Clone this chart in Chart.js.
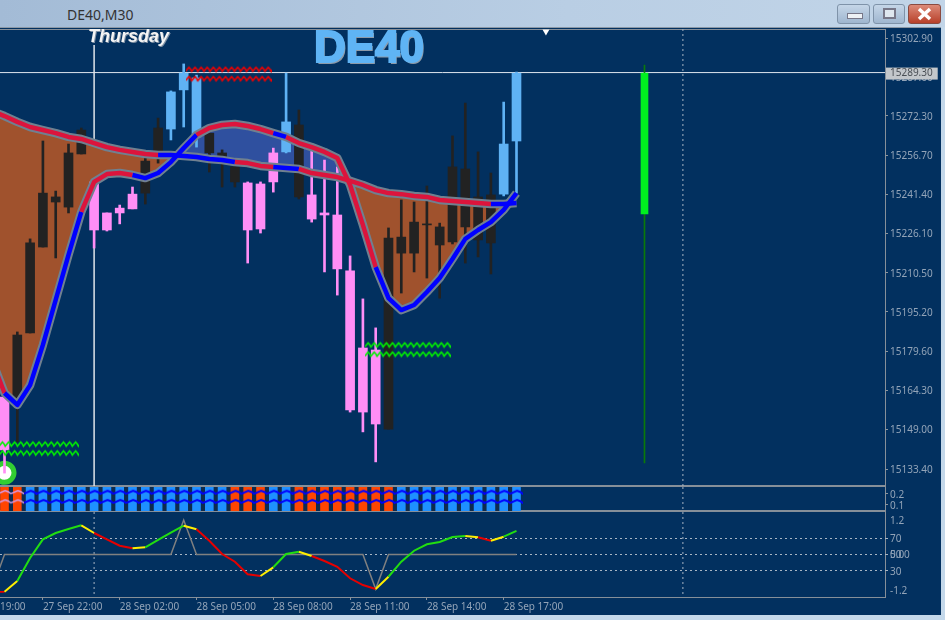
<!DOCTYPE html>
<html>
<head>
<meta charset="utf-8">
<script src="https://cdn.jsdelivr.net/npm/chart.js@4"></script>
<style>
  html, body { margin: 0; padding: 0; width: 945px; height: 620px; overflow: hidden; background: #02305f; }
  canvas { position: absolute; left: 0; }
  .box { position: absolute; left: -2px; width: 886px; border: 1px solid #868f99; box-sizing: content-box; }
  .bar { position: absolute; left: 0; top: 0; width: 945px; height: 27px;
         background: linear-gradient(to right, #a3bbd6, #b9cee4 60%, #c2d5e8); border-bottom: 1px solid #8d99a6; }
  .title { position: absolute; left: 67px; top: 5px; font: 14px "Noto Sans", sans-serif; color: #333; }
  .btn { position: absolute; top: 4px; height: 18px; border: 1px solid #7f93a9; border-radius: 3px;
         background: linear-gradient(#c5d6e8, #9fb6cf); }
  .frameR { position: absolute; left: 941px; top: 27px; width: 4px; height: 593px; background: #c4d8ea; }
  .frameB { position: absolute; left: 0; top: 615px; width: 945px; height: 5px; background: #c4d8ea; }
  .day { position: absolute; left: 88px; top: 26px; font: italic bold 18px "Liberation Sans", sans-serif;
         color: #f4f4f4; text-shadow: 1px 1px 0 #7d8fa3; }
  .name { position: absolute; left: 314px; top: 22px; font: bold 44px "Liberation Sans", sans-serif;
          color: #5fb4f5; -webkit-text-stroke: 2px #5fb4f5; text-shadow: 1.5px 1.5px 0 #8d9aa8; }
</style>
</head>
<body>
<div class="box" style="top:29px;height:455px"></div>
<div class="box" style="top:486px;height:23px"></div>
<div class="box" style="top:511px;height:85px"></div>
<canvas id="mainChart" width="941" height="457" style="top:29px"></canvas>
<canvas id="stripChart" width="941" height="24" style="top:487px"></canvas>
<canvas id="oscChart" width="941" height="103" style="top:512px"></canvas>

<div class="bar"></div>
<div class="title">DE40,M30</div>
<div class="btn" style="left:837px;width:31px"><div style="position:absolute;left:9px;top:8px;width:14px;height:4px;background:#eef2f6;border:1px solid #778"></div></div>
<div class="btn" style="left:873px;width:30px"><div style="position:absolute;left:9px;top:3px;width:9px;height:7px;background:#dfe7ef;border:2px solid #778"></div></div>
<div class="btn" style="left:908px;width:31px;background:linear-gradient(#dc8a78,#b8402a);border-color:#8a4a40">
  <svg width="31" height="18"><path d="M10 4 L21 14 M21 4 L10 14" stroke="#fff" stroke-width="3.5"/></svg>
</div>
<div class="frameR"></div>
<div class="frameB"></div>
<div class="day">Thursday</div>
<div class="name">DE40</div>

<script>
// ===== PRICE PANEL DATA (bars 0..40) =====
const candleHigh = [15161.7,15187.3,15223.9,15262.4,15242.7,15261.2,15267.5,15246.3,15234.1,15237.2,15244.3,15255.7,15271.4,15282.1,15292.7,15288.3,15265.5,15258.9,15253.0,15246.3,15246.3,15259.6,15289.1,15274.6,15258.9,15254.9,15252.2,15217.2,15200.3,15188.9,15228.2,15239.2,15238.4,15244.7,15230.1,15264.4,15277.3,15258.1,15249.8,15277.7,15289.5];
const candleLow = [15131.8,15144.0,15186.9,15220.7,15216.4,15234.1,15257.3,15220.3,15227.0,15229.8,15235.7,15237.6,15253.7,15262.8,15267.9,15260.0,15250.2,15244.3,15244.3,15214.4,15226.2,15242.3,15257.7,15239.6,15230.5,15210.9,15201.8,15155.8,15148.0,15136.2,15149.1,15202.6,15210.9,15208.5,15200.6,15221.9,15214.4,15216.8,15210.1,15240.8,15241.9];
const bodyTop = [15161.7,15186.1,15222.3,15241.9,15240.4,15257.7,15266.7,15246.3,15234.1,15236.0,15241.5,15254.5,15267.5,15281.7,15289.1,15287.2,15265.5,15257.7,15252.2,15245.9,15245.5,15257.7,15269.9,15268.7,15241.2,15234.1,15233.3,15211.3,15181.0,15180.2,15224.2,15224.6,15230.5,15229.8,15228.6,15252.2,15251.4,15240.4,15241.2,15261.2,15289.1];
const bodyBottom = [15140.9,15160.5,15186.9,15220.7,15238.4,15236.4,15257.3,15227.4,15227.4,15234.1,15235.7,15241.9,15256.1,15267.1,15282.5,15264.0,15257.7,15254.9,15246.3,15227.4,15227.8,15246.3,15258.1,15240.4,15231.7,15233.3,15212.1,15156.6,15155.8,15151.1,15149.1,15218.3,15218.3,15229.4,15221.5,15222.7,15228.6,15223.5,15222.3,15241.5,15262.4];
const candleKind = ['pink','black','black','black','black','black','black','pink','pink','pink','pink','black','black','blue','blue','blue','black','black','black','pink','pink','pink','blue','black','pink','pink','pink','pink','pink','pink','black','black','black','black','black','black','black','black','black','blue','blue'];

// the single green projection bar further right
const spikeBar = [50];
const spikeHigh = [15292.3];
const spikeLow = [15135.8];
const spikeTop = [15289.1];
const spikeBottom = [15233.7];

// moving averages (bars -1..40)
const maSlow = [15274.2,15272.2,15269.9,15267.9,15266.7,15265.5,15264.0,15263.2,15261.6,15260.0,15258.9,15258.1,15257.3,15256.9,15256.9,15256.5,15256.1,15255.3,15254.9,15254.1,15253.7,15252.6,15252.2,15251.8,15251.4,15249.8,15249.0,15248.2,15246.7,15245.1,15243.1,15241.9,15241.5,15240.8,15240.4,15239.2,15238.8,15238.4,15238.0,15237.6,15237.6,15238.0];
const maFast = [15176.3,15163.3,15158.6,15166.4,15182.2,15199.9,15217.6,15234.5,15246.3,15249.4,15249.8,15249.0,15247.8,15249.8,15254.1,15259.6,15264.8,15267.5,15268.7,15269.1,15268.3,15267.1,15265.5,15264.0,15261.6,15260.0,15258.1,15255.7,15245.1,15229.4,15212.8,15200.6,15195.9,15197.9,15203.0,15208.5,15216.0,15223.9,15227.4,15230.5,15235.3,15241.9];
const slowBlueBars = [[12,18],[21,23],[38,40]];
const fastBlueBars = [[0,6],[10,15],[21,22],[29,40]];

// zigzag signal marks: centre bar, price
const redSignalBars = [17.5,17.5];
const redSignalPrices = [15290.6,15286.9];
const greenSignalBars = [2.46,2.46,31.5,31.5];
const greenSignalPrices = [15143.2,15139.7,15182.2,15178.6];
const circleBar = [0];
const circlePrice = [15131.9];
const shiftBar = [42.3];
const shiftPrice = [15305.5];

const priceTicks = [15302.9,15287.6,15289.3,15272.3,15256.7,15241.4,15226.1,15210.5,15195.2,15179.6,15164.3,15149.0,15133.4];
const bidPrice = 15289.3;
const dayLineBar = 7;
const dayLineTop = 15300.1;
const periodLineBar = 53;

// ===== STRIP PANEL DATA =====
const stripKind = ['orange','orange','blue','blue','blue','blue','blue','blue','blue','blue','blue','blue','blue','blue','blue','blue','blue','blue','orange','orange','orange','blue','blue','orange','orange','orange','orange','orange','orange','orange','orange','blue','blue','blue','blue','blue','blue','blue','blue','blue','blue'];
const stripValue = [0.27,0.27,0.27,0.27,0.27,0.27,0.27,0.27,0.27,0.27,0.27,0.27,0.27,0.27,0.27,0.27,0.27,0.27,0.27,0.27,0.27,0.27,0.27,0.27,0.27,0.27,0.27,0.27,0.27,0.27,0.27,0.27,0.27,0.27,0.27,0.27,0.27,0.27,0.27,0.27,0.27];
const stripWaveLevels = [0.215,0.131];
const stripTicks = [0.2,0.1];

// ===== OSCILLATOR PANEL DATA (bars -1..40) =====
const oscLine = [5,4.6,17.7,45.7,68.5,76.2,81.1,85.6,76.2,68.5,60.7,57.6,58.8,67.7,76.6,85.1,80.7,66.8,50.6,41.2,25.9,23.8,34.4,50.6,53.4,48.2,42.1,35.1,21,12.8,7.9,22.9,41.2,54.6,62.4,65.2,71.3,72.6,71,66.8,71.7,78.7];
const oscColors = ['red','yellow','green','green','green','green','green','yellow','red','red','red','yellow','green','green','green','yellow','red','red','red','red','red','yellow','green','green','yellow','red','red','red','red','red','yellow','green','green','green','green','green','green','yellow','red','yellow','green'];
const grayLine = [7,50,50,50,50,50,50,50,50,50,50,50,50,50,50,92,50,50,50,50,50,50,50,50,50,50,50,50,50,50,7.9,50,50,50,50,50,50,50,50,50,50,50];
// 50 and 0.00 sit on the same height, the reference shows them on top of each other
const oscTicks = [92.1,70,50,50,30,6.7];
const oscTickLabels = ['1.2','70','50','0.00','30','-1.2'];

const timeBars = [-3,3,9,15,21,27,33,39];
const timeLabels = ['27 Sep 19:00','27 Sep 22:00','28 Sep 02:00','28 Sep 05:00','28 Sep 08:00','28 Sep 11:00','28 Sep 14:00','28 Sep 17:00'];

const bgTextColor = '#93a4b8';
const dotColor = '#a9b6c4';
const candleColors = { black: '#222222', pink: '#ff8ef6', blue: '#5fb2f4' };
const stripColors = { orange: '#ff4500', blue: '#1e90ff' };
const lineColors = { red: '#e60000', yellow: '#ffee00', green: '#22dd11' };
const axisFont = { family: '"Noto Sans", sans-serif', size: 10 };

// little wave picture used as point style for the zigzag marks
function makeWave(width, period, amp, lineWidth, color) {
  const c = document.createElement('canvas');
  c.width = width;
  c.height = amp * 2 + lineWidth * 2 + 2;
  const ctx = c.getContext('2d');
  const mid = c.height / 2;
  ctx.strokeStyle = color;
  ctx.lineWidth = lineWidth;
  ctx.beginPath();
  for (let x = 0; x <= width; x += period) {
    ctx.lineTo(x, mid + amp);
    ctx.lineTo(x + period * 0.55, mid - amp);
    ctx.lineTo(x + period * 0.8, mid - amp * 0.2);
  }
  ctx.stroke();
  return c;
}

function isInRanges(bar, ranges) {
  return ranges.some(r => bar >= r[0] && bar < r[1]);
}

// tick labels near the panel edges must not shrink the plot area
function noPadding(scale) {
  scale.paddingTop = 0;
  scale.paddingBottom = 0;
  scale.paddingLeft = 0;
  scale.paddingRight = 0;
}

// x axis shared by all panels: one bar every 12.8 px, bar 0 at 4.5 px
const xMin = -0.352;
const xMax = 68.79;
function xAxis() {
  return { type: 'linear', display: false, min: xMin, max: xMax, offset: false, grid: { display: false } };
}

function yAxis(min, max, tickValues, labelFn) {
  return {
    type: 'linear',
    position: 'right',
    min: min,
    max: max,
    border: { display: false },
    grid: { drawOnChartArea: false, color: '#8a949e', tickLength: 3 },
    afterFit(scale) { scale.width = 56; noPadding(scale); },
    afterBuildTicks(scale) { scale.ticks = tickValues.map(v => ({ value: v })); },
    ticks: { autoSkip: false, color: bgTextColor, font: axisFont, padding: 2, labelOffset: 1, callback: labelFn }
  };
}

function vLine(bar, top, bottom, color, width, dash, order) {
  return {
    type: 'line', data: [{ x: bar, y: top }, { x: bar, y: bottom }],
    borderColor: color, borderWidth: width, borderDash: dash, pointRadius: 0, order: order
  };
}

const baseOptions = {
  responsive: false,
  animation: false,
  layout: { padding: 0, autoPadding: false },
  plugins: { legend: { display: false }, tooltip: { enabled: false } }
};

// ===== PRICE PANEL =====
const bars = candleHigh.map((v, i) => i);
const priceMin = 15126.72;
const priceMax = 15306.44;
const perBar = bars.map(i => candleColors[candleKind[i]]);
const wickData = bars.map(i => ({ x: i, y: [candleLow[i], candleHigh[i]] }));
const bodyData = bars.map(i => ({ x: i, y: [bodyBottom[i], bodyTop[i]] }));
const slowData = maSlow.map((v, i) => ({ x: i - 1, y: v }));
const fastData = maFast.map((v, i) => ({ x: i - 1, y: v }));
const redWave = makeWave(86, 6.1, 2, 1.6, '#f00000');
const greenWave = makeWave(86, 6.1, 2, 1.6, '#00f000');

new Chart(document.getElementById('mainChart'), {
  type: 'bar',
  data: {
    datasets: [
      { type: 'line', data: fastData, borderColor: '#708090', borderWidth: 8.5, borderJoinStyle: 'round', pointRadius: 0, order: 20 },
      { type: 'line', data: slowData, borderColor: 'transparent', borderWidth: 0, pointRadius: 0, order: 50,
        fill: { target: 0, above: '#a0522d', below: '#2f509f' } },
      { type: 'line', data: slowData, borderColor: '#708090', borderWidth: 8.5, borderJoinStyle: 'round', pointRadius: 0, order: 19 },
      { type: 'line', data: slowData, borderWidth: 4.5, borderJoinStyle: 'round', pointRadius: 0, order: 10,
        segment: { borderColor: c => isInRanges(c.p0.parsed.x, slowBlueBars) ? '#0000ff' : '#dc143c' } },
      { type: 'line', data: fastData, borderWidth: 4.5, borderJoinStyle: 'round', pointRadius: 0, order: 9,
        segment: { borderColor: c => isInRanges(c.p0.parsed.x, fastBlueBars) ? '#0000ff' : '#dc143c' } },
      { data: wickData, backgroundColor: perBar, barThickness: 2, grouped: false, order: 40 },
      { data: bodyData, backgroundColor: perBar, barThickness: 9, grouped: false, order: 39 },
      { data: spikeBar.map((x, i) => ({ x: x, y: [spikeLow[i], spikeHigh[i]] })), backgroundColor: '#0a7a0a', barThickness: 1, grouped: false, order: 40 },
      { data: spikeBar.map((x, i) => ({ x: x, y: [spikeBottom[i], spikeTop[i]] })), backgroundColor: '#00f020', barThickness: 7, grouped: false, order: 39 },
      vLine(dayLineBar, dayLineTop, priceMin, '#dfe4ea', 1.5, [], 60),
      vLine(periodLineBar, priceMax, priceMin, dotColor, 1, [2, 3], 60),
      { type: 'line', data: [{ x: xMin, y: bidPrice }, { x: xMax, y: bidPrice }], borderColor: '#dfe6ee', borderWidth: 1, pointRadius: 0, order: 60 },
      { type: 'scatter', data: redSignalBars.map((x, i) => ({ x: x, y: redSignalPrices[i] })), pointStyle: redWave, pointRadius: 1, order: 5 },
      { type: 'scatter', data: greenSignalBars.map((x, i) => ({ x: x, y: greenSignalPrices[i] })), pointStyle: greenWave, pointRadius: 1, order: 5 },
      { type: 'scatter', data: [{ x: circleBar[0], y: circlePrice[0] }], pointStyle: 'circle', pointRadius: 9.5, borderWidth: 5,
        borderColor: '#32cd32', backgroundColor: '#ffffff', order: 45 },
      { type: 'scatter', data: [{ x: shiftBar[0], y: shiftPrice[0] }], pointStyle: 'triangle', pointRadius: 4, rotation: 180,
        backgroundColor: '#ffffff', borderWidth: 0, order: 5 }
    ]
  },
  options: Object.assign({}, baseOptions, {
    scales: {
      x: xAxis(),
      y: (() => {
        const axis = yAxis(priceMin, priceMax, priceTicks, v => v.toFixed(2));
        axis.ticks.color = c => c.tick && c.tick.value === bidPrice ? '#4a4f55' : bgTextColor;
        axis.ticks.showLabelBackdrop = c => !!c.tick && c.tick.value === bidPrice;
        axis.ticks.backdropColor = '#c3c7cb';
        axis.ticks.backdropPadding = { left: 4, right: 5, top: 0, bottom: 0 };
        return axis;
      })()
    }
  })
});

// ===== STRIP PANEL =====
const stripMin = 0.043;
const stripMax = 0.262;
const blueWave = makeWave(13, 12.8, 1.5, 2, '#0000ff');
const paleWave = makeWave(13, 12.8, 1.5, 1.5, '#d79ae6');
const wavePoints = [];
const waveStyles = [];
stripWaveLevels.forEach(level => {
  bars.forEach(i => {
    wavePoints.push({ x: i, y: level });
    waveStyles.push(i < 2 ? paleWave : blueWave);
  });
});

new Chart(document.getElementById('stripChart'), {
  type: 'bar',
  data: {
    datasets: [
      { data: bars.map(i => ({ x: i, y: stripValue[i] })), backgroundColor: bars.map(i => stripColors[stripKind[i]]), barThickness: 8, grouped: false, order: 20 },
      // darker cells between the coloured ones
      { data: bars.slice(0, 40).map(i => ({ x: i + 0.5, y: stripValue[i] })), backgroundColor: '#0e2b4d', barThickness: 5, grouped: false, order: 21 },
      { type: 'scatter', data: wavePoints, pointStyle: waveStyles, pointRadius: 1, order: 5 },
      vLine(dayLineBar, stripMax, stripMin, '#dfe4ea', 1.5, [], 60),
      vLine(periodLineBar, stripMax, stripMin, dotColor, 1, [2, 3], 60)
    ]
  },
  options: Object.assign({}, baseOptions, {
    scales: { x: xAxis(), y: yAxis(stripMin, stripMax, stripTicks, v => v.toFixed(1)) }
  })
});

// ===== OSCILLATOR PANEL =====
const oscMin = -1.8;
const oscMax = 101.8;
const oscY = yAxis(oscMin, oscMax, oscTicks, (v, i) => oscTickLabels[i]);
oscY.grid.drawOnChartArea = true;
oscY.grid.color = c => (c.tick && (c.tick.value === 70 || c.tick.value === 50 || c.tick.value === 30)) ? dotColor : 'transparent';
oscY.border = { display: false, dash: [2, 3] };

new Chart(document.getElementById('oscChart'), {
  type: 'line',
  data: {
    datasets: [
      { data: grayLine.map((v, i) => ({ x: i - 1, y: v })), borderColor: '#808080', borderWidth: 1.5, pointRadius: 0, order: 20 },
      { data: oscLine.map((v, i) => ({ x: i - 1, y: v })), borderWidth: 2, pointRadius: 0, order: 10,
        segment: { borderColor: c => lineColors[oscColors[c.p0DataIndex]] } },
      vLine(dayLineBar, oscMax, oscMin, dotColor, 1, [2, 3], 60),
      vLine(periodLineBar, oscMax, oscMin, dotColor, 1, [2, 3], 60)
    ]
  },
  options: Object.assign({}, baseOptions, {
    scales: {
      x: {
        type: 'linear', position: 'bottom', min: xMin, max: xMax, offset: false,
        border: { display: false },
        grid: { drawOnChartArea: false, color: '#8a949e', tickLength: 3 },
        afterFit(scale) { scale.height = 18; noPadding(scale); },
        afterBuildTicks(scale) { scale.ticks = timeBars.map(v => ({ value: v })); },
        ticks: { autoSkip: false, maxRotation: 0, align: 'start', padding: 1, color: bgTextColor, font: axisFont,
          callback: v => timeLabels[timeBars.indexOf(v)] }
      },
      y: oscY
    }
  })
});
</script>
</body>
</html>
